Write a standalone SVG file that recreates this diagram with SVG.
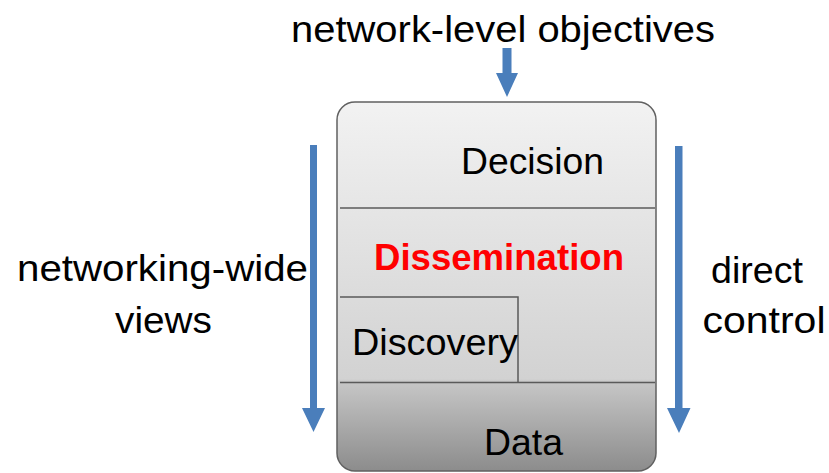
<svg xmlns="http://www.w3.org/2000/svg" width="829" height="473" viewBox="0 0 829 473">
<defs>
<linearGradient id="bg" x1="0" y1="102" x2="0" y2="471" gradientUnits="userSpaceOnUse">
<stop offset="0" stop-color="#f2f2f2"/>
<stop offset="0.75" stop-color="#d2d2d2"/>
<stop offset="0.76" stop-color="#c6c6c6"/>
<stop offset="1" stop-color="#8c8c8c"/>
</linearGradient>
<style>
.t{font-family:"Liberation Sans",Arial,sans-serif;font-size:37px;fill:#000;text-anchor:middle}
.ln{stroke:#5a5a5a;stroke-width:1.5;fill:none}
.arr{fill:#4a7ebb}
</style>
</defs>
<rect width="829" height="473" fill="#fff"/>
<g id="stack">
<rect x="337" y="102" width="319" height="369" rx="18" ry="18" fill="url(#bg)" stroke="#606060" stroke-width="1.5"/>
</g>
<g id="decision">
<text class="t" x="532.5" y="174" textLength="143" lengthAdjust="spacingAndGlyphs">Decision</text>
</g>
<g id="dissemination">
<line class="ln" x1="340" y1="208" x2="655" y2="208"/>
<text class="t" x="499" y="270" textLength="250" lengthAdjust="spacingAndGlyphs" style="fill:#ff0000;font-weight:bold">Dissemination</text>
</g>
<g id="discovery">
<polyline class="ln" points="340,297 518,297 518,382"/>
<text class="t" x="435" y="355" textLength="166" lengthAdjust="spacingAndGlyphs">Discovery</text>
</g>
<g id="data">
<line class="ln" x1="340" y1="382.5" x2="655" y2="382.5"/>
<text class="t" x="523.5" y="455" textLength="79" lengthAdjust="spacingAndGlyphs">Data</text>
</g>
<g id="labels">
<text class="t" x="503" y="42" textLength="424" lengthAdjust="spacingAndGlyphs">network-level objectives</text>
<text class="t" x="162.5" y="281" textLength="291" lengthAdjust="spacingAndGlyphs">networking-wide</text>
<text class="t" x="163.5" y="333" textLength="97" lengthAdjust="spacingAndGlyphs">views</text>
<text class="t" x="757" y="283" textLength="92" lengthAdjust="spacingAndGlyphs">direct</text>
<text class="t" x="764" y="333" textLength="123" lengthAdjust="spacingAndGlyphs">control</text>
</g>
<g id="connectors">
<polygon class="arr" points="502.5,48 511.5,48 511.5,73 518,73 507,97 496,73 502.5,73"/>
<polygon class="arr" points="310,145 317,145 317,408 325,408 313.5,432 302,408 310,408"/>
<polygon class="arr" points="675,146 682.5,146 682.5,408 690.5,408 679,433 667,408 675,408"/>
</g>
</svg>
